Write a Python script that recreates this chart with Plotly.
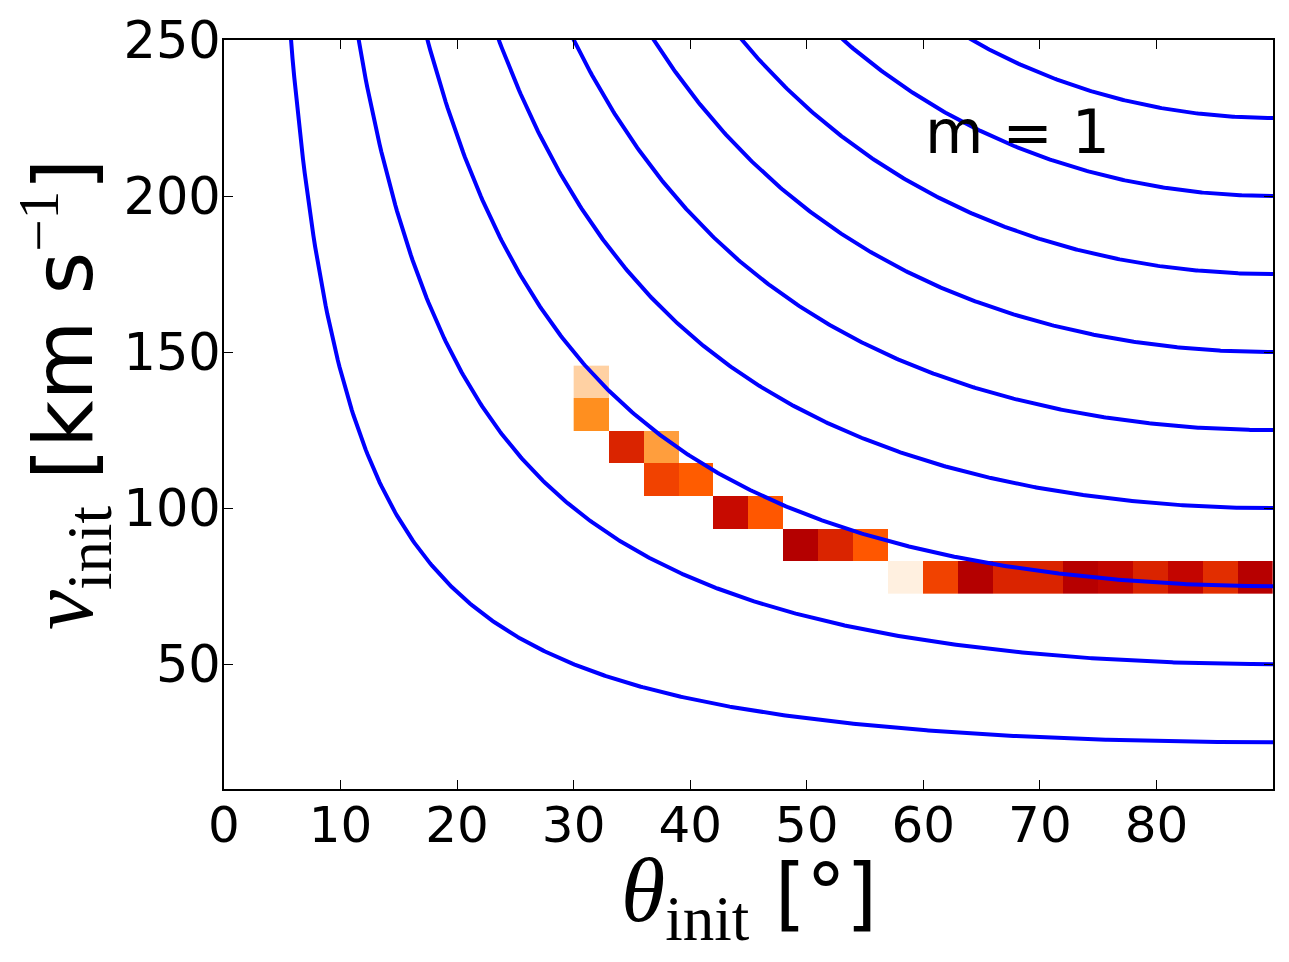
import numpy as np
import plotly.graph_objects as go

# ---- data ----
# heat-map bin edges
theta_edges = [30, 33, 36, 39, 42, 45, 48, 51, 54, 57, 60, 63, 66, 69, 72, 75, 78, 81, 84, 87, 90]
v_edges = [72.6, 83.0, 93.5, 103.9, 114.3, 124.8, 135.2, 145.65]
N = None
# rows bottom -> top, columns 30..87 (3 deg bins); None = empty
z_rows = [
    [N, N, N, N, N, N, N, N, N, 0.03, 0.37, 0.53, 0.43, 0.43, 0.52, 0.49, 0.43, 0.49, 0.41, 0.52],
    [N, N, N, N, N, N, 0.53, 0.43, 0.33, N, N, N, N, N, N, N, N, N, N, N],
    [N, N, N, N, 0.48, 0.33, N, N, N, N, N, N, N, N, N, N, N, N, N, N],
    [N, N, 0.37, 0.32, N, N, N, N, N, N, N, N, N, N, N, N, N, N, N, N],
    [N, 0.43, 0.19, N, N, N, N, N, N, N, N, N, N, N, N, N, N, N, N, N],
    [0.22, N, N, N, N, N, N, N, N, N, N, N, N, N, N, N, N, N, N, N],
    [0.09, N, N, N, N, N, N, N, N, N, N, N, N, N, N, N, N, N, N, N],
]
# asymptotic speeds (value at theta = 90 deg) of the blue iso-curves v*sin(theta) = const
curve_levels = [25, 50, 75, 100, 125, 150, 175, 200, 225]
x_ticks = [0, 10, 20, 30, 40, 50, 60, 70, 80]
y_ticks = [50, 100, 150, 200, 250]

# gist_heat_r colour map
gist_heat_r = [[0.0, 'rgb(255,255,255)'], [0.25, 'rgb(255,128,0)'],
               [1/3, 'rgb(255,85,0)'], [0.5, 'rgb(191,0,0)'], [1.0, 'rgb(0,0,0)']]

z = [[np.nan if c is None else c for c in row] for row in z_rows]

fig = go.Figure()
fig.add_trace(go.Heatmap(x=theta_edges, y=v_edges, z=z, colorscale=gist_heat_r,
                         zmin=0, zmax=1, showscale=False, hoverongaps=False))

theta = np.linspace(0.5, 90, 600)
for c in curve_levels:
    fig.add_trace(go.Scatter(x=theta, y=c / np.sin(np.radians(theta)), mode='lines',
                             line=dict(color='#0000ff', width=4), showlegend=False,
                             hoverinfo='skip'))

W, H = 1289, 962
L, R, T, B = 224, 16, 40, 173
fig.update_layout(
    width=W, height=H, margin=dict(l=L, r=R, t=T, b=B),
    paper_bgcolor='white', plot_bgcolor='white', showlegend=False,
    font=dict(family='DejaVu Sans', color='black', size=50),
)
axis_common = dict(showgrid=False, zeroline=False, showline=True, linecolor='black',
                   linewidth=2, mirror='ticks', ticks='inside', ticklen=9, tickwidth=1.2,
                   tickcolor='black')
fig.update_xaxes(range=[0, 90], tickvals=x_ticks, ticktext=[str(t) for t in x_ticks],
                 tickfont=dict(family='DejaVu Sans', size=50, color='black'),
                 ticklabelstandoff=-9, **axis_common)
fig.update_yaxes(range=[10, 250], tickvals=y_ticks, ticktext=[str(t) for t in y_ticks],
                 tickfont=dict(family='DejaVu Sans', size=51, color='black'),
                 ticklabelstandoff=-9, **axis_common)

serif = "font-family:'Liberation Serif';font-size:90px"
xtitle = (f"<span style=\"{serif}\"><i>θ</i><sub>init</sub></span> [°]")
ytitle = (f"<span style=\"{serif}\"><i>v</i><sub>init</sub></span> [km s"
          f"<sup><span style=\"font-family:'Liberation Serif'\">−1</span></sup>]")
pw, ph = W - L - R, H - T - B
fig.add_annotation(text=xtitle, xref='paper', yref='paper', x=0.5, y=(789 - 897) / ph,
                   showarrow=False, xanchor='center', yanchor='middle',
                   font=dict(family='DejaVu Sans', size=80, color='black'))
fig.add_annotation(text=ytitle, xref='paper', yref='paper', x=(66 - L) / pw, y=(789 - 395) / ph,
                   showarrow=False, xanchor='center', yanchor='middle', textangle=-90,
                   font=dict(family='DejaVu Sans', size=82, color='black'))
fig.add_annotation(text='m = 1', xref='x', yref='y', x=68.1, y=220.5,
                   showarrow=False, xanchor='center', yanchor='middle',
                   font=dict(family='DejaVu Sans', size=60, color='black'))

fig.write_html('out.html')
